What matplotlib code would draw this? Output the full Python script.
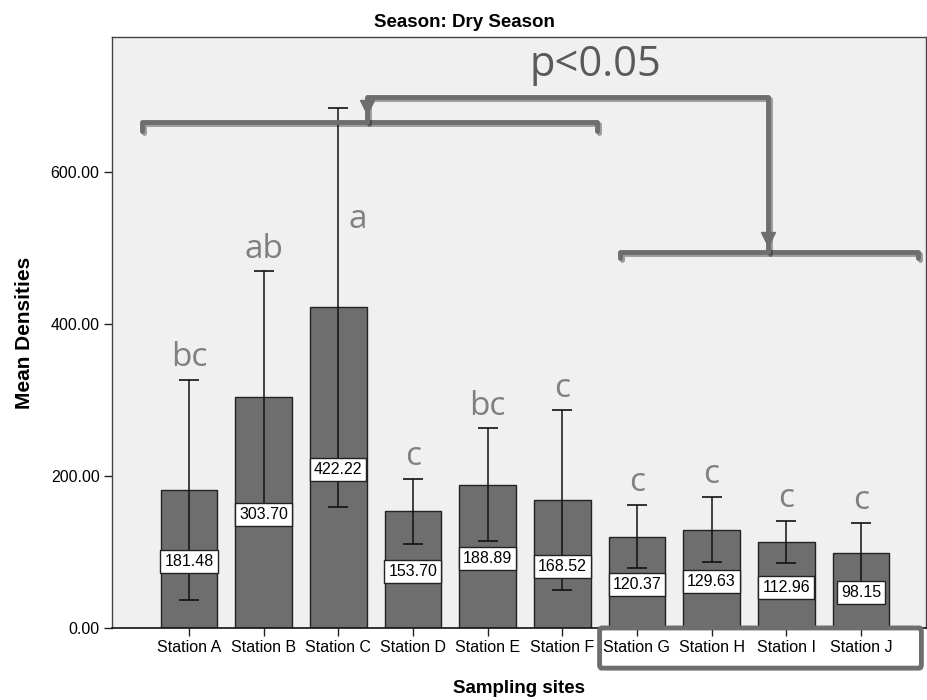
import matplotlib.pyplot as plt
import matplotlib.patheffects as pe
from matplotlib.patches import FancyBboxPatch
from matplotlib.transforms import blended_transform_factory
import numpy as np

# Data
stations = ['Station A', 'Station B', 'Station C', 'Station D', 'Station E',
            'Station F', 'Station G', 'Station H', 'Station I', 'Station J']
means = [181.48, 303.70, 422.22, 153.70, 188.89, 168.52, 120.37, 129.63, 112.96, 98.15]
errors = [145, 166, 263, 42.5, 74, 118, 42, 43, 28, 40]
letters = ['bc', 'ab', 'a', 'c', 'bc', 'c', 'c', 'c', 'c', 'c']
yticks = [0, 200, 400, 600]

plt.rcParams['font.family'] = ['Liberation Sans', 'DejaVu Sans']

fig = plt.figure(figsize=(9.28, 7), dpi=100)
ax = fig.add_axes([0.1207, 0.1029, 0.877, 0.844])
ax.set_facecolor('#f0f0f0')

x = np.arange(len(stations))
ax.bar(x, means, width=0.76, color='#6e6e6e', edgecolor='#222222', linewidth=1, zorder=2)
ax.errorbar(x, means, yerr=errors, fmt='none', ecolor='#111111', elinewidth=1.1,
            capsize=7, capthick=1.2, zorder=3)

# value labels in white boxes at mid-bar
for xi, m in zip(x, means):
    ax.text(xi, m / 2 - 3, f'{m:.2f}', ha='center', va='center', fontsize=11.5,
            zorder=4,
            bbox=dict(boxstyle='square,pad=0.25', fc='white', ec='#222222', lw=1))

# significance letters
for xi, m, e, let in zip(x, means, errors, letters):
    lx, ly = xi, m + e + 18
    if let == 'a':
        lx, ly = xi + 0.26, 527
    ax.text(lx, ly, let, ha='center', va='baseline', fontsize=24,
            family=['Open Sans', 'DejaVu Sans'], color='#808080', zorder=5)

ax.set_xlim(-1.03, 9.87)
ax.set_ylim(0, 778)
ax.set_xticks(x)
ax.set_xticklabels(stations, fontsize=11.5)
ax.set_yticks(yticks)
ax.set_yticklabels([f'{t:.2f}' for t in yticks], fontsize=11.5)
ax.tick_params(axis='both', direction='out', length=6, width=1, color='#222222', pad=3)

for s in ['left', 'top', 'right']:
    ax.spines[s].set_color('#444444')
    ax.spines[s].set_linewidth(1)
ax.spines['bottom'].set_color('#111111')
ax.spines['bottom'].set_linewidth(1.2)

ax.set_xlabel('Sampling sites', fontsize=13.5, fontweight='bold', labelpad=18)
ax.set_ylabel('Mean Densities', fontsize=15, fontweight='bold', labelpad=12)
fig.text(0.5, 0.968, 'Season: Dry Season', ha='center', va='center', fontsize=13.5,
         fontweight='bold')

# brackets and arrows
bcol = '#6e6e6e'
shadow = [pe.SimpleLineShadow(offset=(1.5, -1.5), alpha=0.35), pe.Normal()]
lkw = dict(color=bcol, lw=3.5, solid_capstyle='round', solid_joinstyle='round',
           clip_on=False, zorder=6, path_effects=shadow)
ax.plot([-0.63, -0.63, 5.46, 5.46], [655, 666, 666, 655], **lkw)
ax.plot([5.77, 5.77, 9.76, 9.76], [487, 495, 495, 487], **lkw)
ax.plot([2.38, 2.38, 7.75, 7.75], [666, 699, 699, 495], **lkw)
ax.plot([2.38], [686], marker='v', markersize=10, color=bcol, zorder=7)
ax.plot([7.75], [512], marker='v', markersize=10, color=bcol, zorder=7)

ax.text(5.44, 741, 'p<0.05', ha='center', va='center', fontsize=30,
        family=['Open Sans', 'DejaVu Sans'], color='#5a5a5a', zorder=6)

# box around Station G-J labels
trans = blended_transform_factory(ax.transData, ax.transAxes)
box = FancyBboxPatch((5.5, -0.068), 4.31, 0.068, boxstyle='round,pad=0,rounding_size=0.03',
                     transform=trans, fill=False, ec=bcol, lw=3.5, clip_on=False, zorder=6,
                     mutation_aspect=0.2)
ax.add_patch(box)

plt.savefig('out.png', dpi=100)
